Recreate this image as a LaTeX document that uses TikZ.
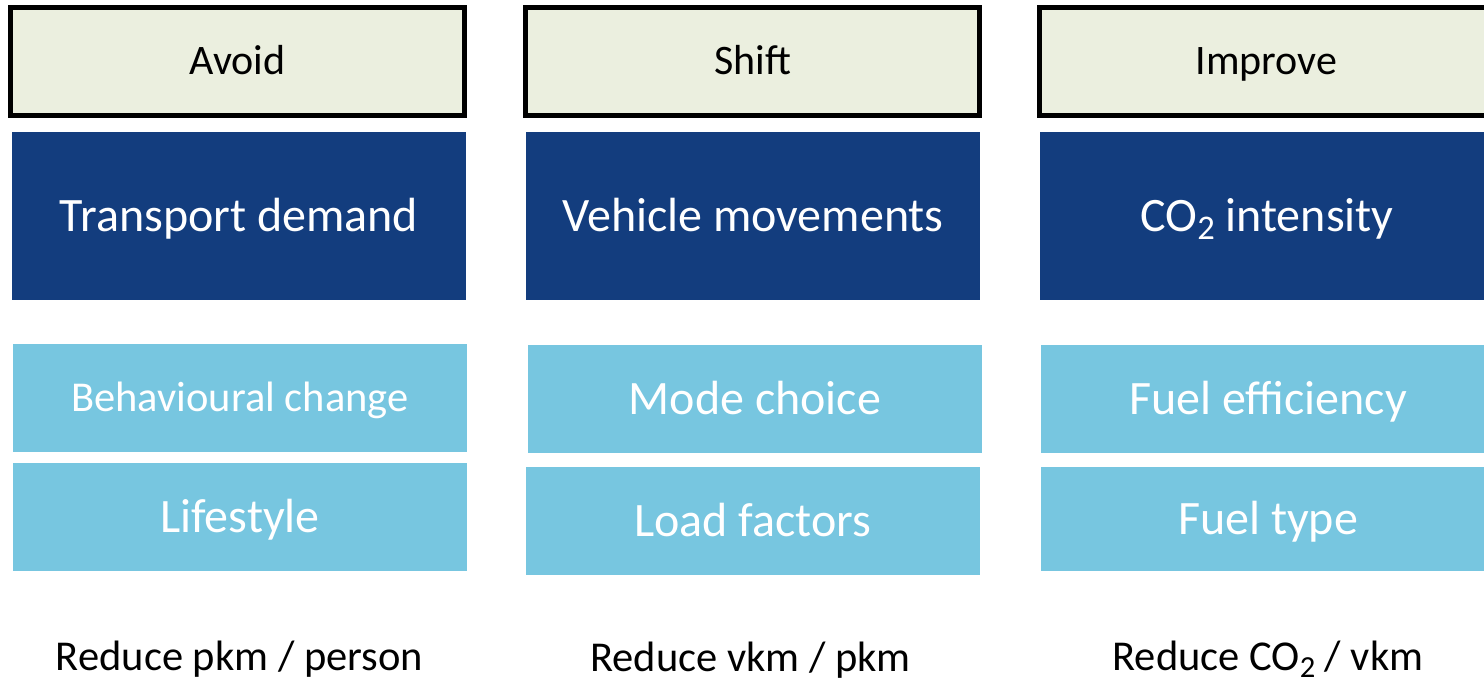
\documentclass[tikz,border=0pt]{standalone}
\usepackage{fontspec}
\setmainfont{Carlito}
\definecolor{topfill}{HTML}{EBEFDF}
\definecolor{darkblue}{HTML}{133D7E}
\definecolor{lightblue}{HTML}{77C6E0}
\newcommand\lowtwo{\raisebox{-0.16em}{\scalebox{0.72}{2}}}
\begin{document}
\begin{tikzpicture}[x=1pt,y=-1pt,
  boxbase/.style={inner sep=0pt,text depth=0pt},
  topbox/.style={boxbase,text height=27pt,draw=black,line width=5pt,fill=topfill,minimum width=454pt,minimum height=107.5pt,font=\fontsize{42}{50}\selectfont,text=black},
  darkbox/.style={boxbase,text height=31pt,fill=darkblue,minimum width=454pt,minimum height=167pt,font=\fontsize{48}{56}\selectfont,text=white},
  lightbox/.style={boxbase,text height=31pt,fill=lightblue,minimum width=454pt,minimum height=108pt,font=\fontsize{48}{56}\selectfont,text=white},
  reduce/.style={inner sep=0pt,font=\fontsize{42.5}{50}\selectfont,text=black,anchor=base}]
\useasboundingbox (0,0) rectangle (1484,682);
\clip (0,0) rectangle (1484,682);
% top boxes
\node[topbox] (avoid) at (237.5,61.5) {Avoid};
\node[topbox] (shift) at (752.5,61.5) {Shift};
\node[topbox] (improve) at (1266.5,61.5) {Improve};
% dark boxes
\node[darkbox] (demand) at (239,216) {Transport demand};
\node[darkbox] (movements) at (753,216) {Vehicle movements};
\node[darkbox] (intensity) at (1267,216) {CO\lowtwo{} intensity};
% light boxes
\node[lightbox,text height=27.4pt,font=\fontsize{42.5}{50}\selectfont] (behav) at (240,398) {Behavioural change};
\node[lightbox] (life) at (240,517) {Lifestyle};
\node[lightbox] (mode) at (755,398.5) {Mode choice};
\node[lightbox] (load) at (753,521) {Load factors};
\node[lightbox] (effic) at (1268,398.5) {Fuel efficiency};
\node[lightbox,minimum height=104pt] (ftype) at (1268,519) {Fuel type};
% bottom labels
\node[reduce] (r1) at (239.5,670) {Reduce pkm / person};
\node[reduce] (r2) at (750.5,671.5) {Reduce vkm / pkm};
\node[reduce] (r3) at (1268,670.5) {Reduce CO\lowtwo{} / vkm};
\end{tikzpicture}
\end{document}
